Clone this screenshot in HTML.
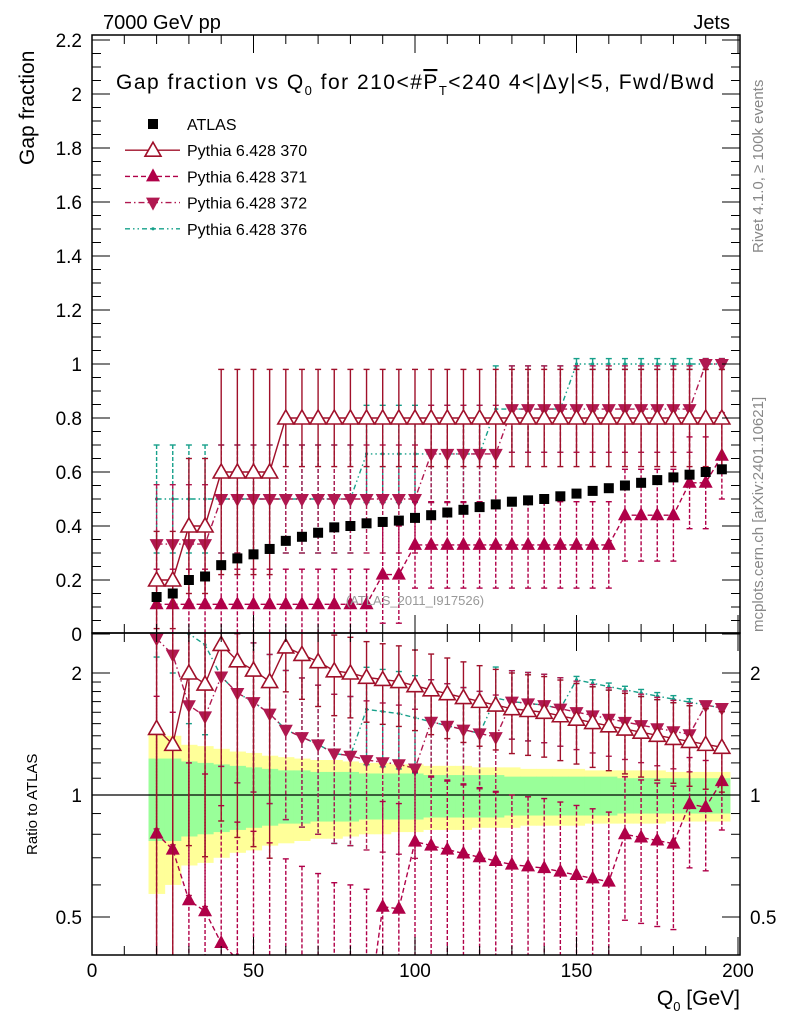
<!DOCTYPE html>
<html><head><meta charset="utf-8"><style>
html,body{margin:0;background:#fff;overflow:hidden;width:786px;height:1024px;}
svg{display:block;font-family:"Liberation Sans",sans-serif;}
</style></head><body>
<svg id="c" width="786" height="1024" viewBox="0 0 786 1024">
<defs>
<clipPath id="cm"><rect x="92" y="35" width="648" height="598"/></clipPath>
<clipPath id="cr"><rect x="92" y="633" width="648" height="322"/></clipPath>
</defs>
<g id="bands" clip-path="url(#cr)"></g>
<g id="main" clip-path="url(#cm)"></g>
<g id="ratio" clip-path="url(#cr)"></g>
<g id="axes"></g>
<text x="103" y="29" font-size="20">7000 GeV pp</text>
<text x="730" y="29" font-size="20" text-anchor="end">Jets</text>
<text x="116" y="89" font-size="21" textLength="598" lengthAdjust="spacing">Gap fraction vs Q<tspan font-size="13" dy="6">0</tspan><tspan dy="-6"> for 210&lt;#</tspan><tspan text-decoration="overline">P</tspan><tspan font-size="13" dy="6">T</tspan><tspan dy="-6">&lt;240   4&lt;|Δy|&lt;5, Fwd/Bwd</tspan></text>
<text transform="translate(34,165) rotate(-90)" font-size="21">Gap fraction</text>
<text transform="translate(37,855) rotate(-90)" font-size="15">Ratio to ATLAS</text>
<text x="740" y="1005" font-size="21" text-anchor="end">Q<tspan font-size="13" dy="6">0</tspan><tspan dy="-6"> [GeV]</tspan></text>
<text transform="translate(763,253) rotate(-90)" font-size="15" fill="#888">Rivet 4.1.0, ≥ 100k events</text>
<text transform="translate(763,632) rotate(-90)" font-size="15" fill="#888">mcplots.cern.ch [arXiv:2401.10621]</text>
<text x="415" y="605" font-size="13" fill="#999" text-anchor="middle">(ATLAS_2011_I917526)</text>
<g id="legend"></g>
</svg>
<script>
const xs = [20,25,30,35,40,45,50,55,60,65,70,75,80,85,90,95,100,105,110,115,120,125,130,135,140,145,150,155,160,165,170,175,180,185,190,195];
const atlas = [0.137,0.15,0.2,0.213,0.255,0.28,0.295,0.315,0.345,0.36,0.375,0.395,0.4,0.41,0.415,0.42,0.43,0.44,0.45,0.46,0.47,0.48,0.49,0.495,0.5,0.51,0.52,0.53,0.54,0.55,0.56,0.57,0.58,0.59,0.6,0.61];
const bandStat = [0.23,0.23,0.21,0.2,0.19,0.18,0.17,0.16,0.15,0.15,0.14,0.14,0.14,0.13,0.13,0.13,0.13,0.12,0.12,0.12,0.12,0.12,0.11,0.11,0.11,0.11,0.11,0.11,0.11,0.1,0.1,0.1,0.1,0.1,0.1,0.1];
const bandTot = [0.43,0.4,0.33,0.32,0.3,0.28,0.27,0.25,0.24,0.23,0.22,0.22,0.21,0.2,0.2,0.19,0.19,0.18,0.18,0.18,0.17,0.17,0.17,0.16,0.16,0.16,0.16,0.15,0.15,0.15,0.15,0.15,0.14,0.14,0.14,0.14];
const p370 = [0.2,0.2,0.4,0.4,0.6,0.6,0.6,0.6,0.8,0.8,0.8,0.8,0.8,0.8,0.8,0.8,0.8,0.8,0.8,0.8,0.8,0.8,0.8,0.8,0.8,0.8,0.8,0.8,0.8,0.8,0.8,0.8,0.8,0.8,0.8,0.8];
const e370 = [0.18,0.18,0.25,0.25,0.38,0.38,0.38,0.38,0.18,0.18,0.18,0.18,0.18,0.18,0.18,0.18,0.18,0.18,0.18,0.18,0.18,0.18,0.18,0.18,0.18,0.18,0.18,0.18,0.18,0.18,0.18,0.18,0.18,0.18,0.18,0.18];
const p371 = [0.11,0.11,0.11,0.11,0.11,0.11,0.11,0.11,0.11,0.11,0.11,0.11,0.11,0.11,0.22,0.22,0.33,0.33,0.33,0.33,0.33,0.33,0.33,0.33,0.33,0.33,0.33,0.33,0.33,0.44,0.44,0.44,0.44,0.56,0.56,0.66];
const e371 = [0.13,0.13,0.13,0.13,0.13,0.13,0.13,0.13,0.13,0.13,0.13,0.13,0.13,0.13,0.18,0.18,0.16,0.16,0.16,0.16,0.16,0.16,0.16,0.16,0.16,0.16,0.16,0.16,0.16,0.17,0.17,0.17,0.17,0.17,0.17,0.16];
const p372 = [0.333,0.333,0.333,0.333,0.5,0.5,0.5,0.5,0.5,0.5,0.5,0.5,0.5,0.5,0.5,0.5,0.5,0.667,0.667,0.667,0.667,0.667,0.833,0.833,0.833,0.833,0.833,0.833,0.833,0.833,0.833,0.833,0.833,0.833,1.0,1.0];
const e372 = [0.22,0.22,0.22,0.22,0.2,0.2,0.2,0.2,0.2,0.2,0.2,0.2,0.2,0.2,0.2,0.2,0.2,0.18,0.18,0.18,0.18,0.18,0.16,0.16,0.16,0.16,0.16,0.16,0.16,0.16,0.16,0.16,0.16,0.16,0.02,0.02];
const p376 = [0.5,0.5,0.5,0.5,0.5,0.5,0.5,0.5,0.5,0.5,0.5,0.5,0.5,0.667,0.667,0.667,0.667,0.667,0.667,0.667,0.667,0.833,0.833,0.833,0.833,0.833,1.0,1.0,1.0,1.0,1.0,1.0,1.0,1.0,1.0,1.0];
const e376 = [0.2,0.2,0.2,0.2,0.2,0.2,0.2,0.2,0.2,0.2,0.2,0.2,0.2,0.18,0.18,0.18,0.18,0.18,0.18,0.18,0.18,0.16,0.16,0.16,0.16,0.16,0.02,0.02,0.02,0.02,0.02,0.02,0.02,0.02,0.02,0.02];
const mainTicks = [0,0.2,0.4,0.6,0.8,1,1.2,1.4,1.6,1.8,2,2.2];
const mainTickLabels = ["0","0.2","0.4","0.6","0.8","1","1.2","1.4","1.6","1.8","2","2.2"];
const ratioTicks = [0.5,1,2];
const ratioTickLabels = ["0.5","1","2"];
const xTicks = [0,50,100,150,200];
const xTickLabels = ["0","50","100","150","200"];

const NS="http://www.w3.org/2000/svg";
const X = v => 92 + v*3.23;
const Y = v => 634 - v*270;
const R = r => 795 - 122*Math.log2(Math.max(r,0.01));
function mk(tag, attrs, parent){const e=document.createElementNS(NS,tag);for(const k in attrs)e.setAttribute(k,attrs[k]);parent.appendChild(e);return e;}
const gB=document.getElementById('bands'), gM=document.getElementById('main'), gR=document.getElementById('ratio'), gA=document.getElementById('axes'), gL=document.getElementById('legend');

xs.forEach((x,i)=>{
  let r=mk('rect',{x:X(x-2.5),y:R(1+bandTot[i]),width:X(x+2.5)-X(x-2.5)+0.5,height:R(1-bandTot[i])-R(1+bandTot[i]),fill:'#ffff99'},gB);
  
  
});
xs.forEach((x,i)=>{
  let r=mk('rect',{x:X(x-2.5),y:R(1+bandStat[i]),width:X(x+2.5)-X(x-2.5)+0.5,height:R(1-bandStat[i])-R(1+bandStat[i]),fill:'#99ff99'},gB);
  
  
});
let l1=mk('line',{x1:92,x2:740,y1:R(1),y2:R(1),stroke:'#000','stroke-width':1.2},gB);



function marker(g,type,cx,cy,col){
  let e;
  if(type==='sq') e=mk('rect',{x:cx-5,y:cy-5,width:10,height:10,fill:'#000'},g);
  else if(type==='otri') e=mk('polygon',{points:`${cx},${cy-8} ${cx-8},${cy+6} ${cx+8},${cy+6}`,fill:'#fff',stroke:col,'stroke-width':1.6},g);
  else if(type==='utri') e=mk('polygon',{points:`${cx},${cy-8} ${cx-7},${cy+5} ${cx+7},${cy+5}`,fill:col},g);
  else if(type==='dtri') e=mk('polygon',{points:`${cx},${cy+8} ${cx-7},${cy-5} ${cx+7},${cy-5}`,fill:col},g);
  else e=mk('circle',{cx:cx,cy:cy,r:1.6,fill:col},g);
  return e;
}
const series=[
 {name:'370',vals:p370,err:e370,col:'#a0102a',type:'otri',dash:''},
 {name:'371',vals:p371,err:e371,col:'#b00048',type:'utri',dash:'5,3'},
 {name:'372',vals:p372,err:e372,col:'#b01850',type:'dtri',dash:'6,3,1.5,3'},
 {name:'376',vals:p376,err:e376,col:'#16a08a',type:'dot',dash:'5,3,1.5,3,1.5,3'}
];
function drawSeries(g,s,fy,ratio){
  const pts=xs.map((x,i)=>{const v=ratio? s.vals[i]/atlas[i]: s.vals[i]; return X(x)+','+fy(v);}).join(' ');
  let pl=mk('polyline',{points:pts,fill:'none',stroke:s.col,'stroke-width':1.4,'stroke-dasharray':s.dash},g);
  
  
  xs.forEach((x,i)=>{
    const v=s.vals[i], e=s.err[i], d=ratio?atlas[i]:1;
    const lo=Math.max(v-e,0.001)/d, hi=(v+e)/d;
    const y1=fy(hi), y2=fy(lo);
    let eb=mk('line',{x1:X(x),x2:X(x),y1:y1,y2:y2,stroke:s.col,'stroke-width':1.4,'stroke-dasharray':s.dash?'4,2':''},g);
    
    
    mk('line',{x1:X(x)-3,x2:X(x)+3,y1:y1,y2:y1,stroke:s.col,'stroke-width':1.4},g);
    mk('line',{x1:X(x)-3,x2:X(x)+3,y1:y2,y2:y2,stroke:s.col,'stroke-width':1.4},g);
    let m=marker(g,s.type,X(x),fy(v/d),s.col);
    
    
  });
}
[3,2,1,0].forEach(k=>drawSeries(gM,series[k],Y,false));
xs.forEach((x,i)=>{
  let m=marker(gM,'sq',X(x),Y(atlas[i]));
  
  
});
[3,2,1,0].forEach(k=>drawSeries(gR,series[k],R,true));

let f1=mk('rect',{x:92,y:35,width:648,height:598,fill:'none',stroke:'#000','stroke-width':1.5},gA);


let f2=mk('rect',{x:92,y:633,width:648,height:322,fill:'none',stroke:'#000','stroke-width':1.5},gA);


function tk(x1,y1,x2,y2){mk('line',{x1,y1,x2,y2,stroke:'#000','stroke-width':1},gA);}
for(let v=0;v<=2.2001;v+=0.05){const maj=Math.abs(v*5-Math.round(v*5))<1e-6;const L=maj?18:9;tk(92,Y(v),92+L,Y(v));tk(740,Y(v),740-L,Y(v));}
mainTicks.forEach((v,i)=>{let t=mk('text',{x:82,y:Y(v)+7,'font-size':19,'text-anchor':'end'},gA);t.textContent=mainTickLabels[i];});
[0.5,0.6,0.7,0.8,0.9,1,1.1,1.2,1.3,1.4,1.5,1.6,1.7,1.8,1.9,2,2.5].forEach(v=>{const maj=(v===0.5||v===1||v===2);const L=maj?18:9;tk(92,R(v),92+L,R(v));tk(740,R(v),740-L,R(v));});
ratioTicks.forEach((v,i)=>{
  let t=mk('text',{x:82,y:R(v)+7,'font-size':19,'text-anchor':'end'},gA);t.textContent=ratioTickLabels[i];
  let t2=mk('text',{x:750,y:R(v)+7,'font-size':19},gA);t2.textContent=ratioTickLabels[i];
});
for(let v=0;v<=200;v+=10){const maj=v%50===0;const L=maj?18:9;[35,633].forEach(y=>tk(X(v),y,X(v),y+L));[633,955].forEach(y=>tk(X(v),y,X(v),y-L));}
xTicks.forEach((v,i)=>{let t=mk('text',{x:X(v),y:977,'font-size':19,'text-anchor':'middle'},gA);t.textContent=xTickLabels[i];});

const legNames=['ATLAS','Pythia 6.428 370','Pythia 6.428 371','Pythia 6.428 372','Pythia 6.428 376'];
legNames.forEach((n,i)=>{
  const y=124+i*26.2;
  const g=mk('g',{},gL);
  
  
  if(i===0){marker(g,'sq',153,y);}
  else{const s=series[i-1];mk('line',{x1:125,x2:180,y1:y,y2:y,stroke:s.col,'stroke-width':1.4,'stroke-dasharray':s.dash},g);marker(g,s.type,153,y,s.col);}
  const t=mk('text',{x:187,y:y+6,'font-size':16},g);t.textContent=n;
});
</script>
</body></html>
